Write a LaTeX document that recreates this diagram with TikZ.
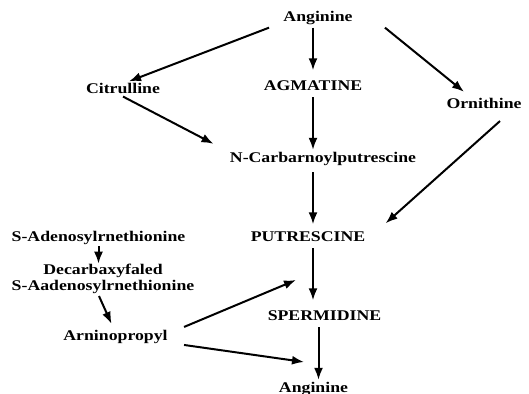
\documentclass[tikz,border=0pt]{standalone}
\usepackage{fontspec}
\setmainfont{Liberation Serif}[FakeStretch=1.2]
\usetikzlibrary{arrows.meta}
\begin{document}
\begin{tikzpicture}[x=0.5pt,y=0.5pt,
    chem/.style={anchor=base,inner sep=1pt,font=\fontsize{7.4}{8}\selectfont\bfseries},
    rxn/.style={line width=1pt,-{Latex[length=6pt,width=4.5pt]}}]
    \useasboundingbox (0,0) rectangle (529,394);
    \node[chem] (arg) at (318,372) {Anginine};
    \node[chem] (cit) at (123,300) {Citrulline};  \node[chem] (agm) at (313,303.5) {AGMATINE};  \node[chem] (orn) at (484,285.5) {Ornithine};
    \node[chem] (ncp) at (323,231.5) {N-Carbarnoylputrescine};
    \node[chem] (sam) at (98.5,152.5) {S-Adenosylrnethionine};  \node[chem] (put) at (308,152.5) {PUTRESCINE};
    \node[chem,align=center] (dsam) at (103,103.5) {Decarbaxyfaled\\S-Aadenosylrnethionine};
    \node[chem] (apr) at (115.5,53.5) {Arninopropyl};  \node[chem] (spd) at (324.5,73.5) {SPERMIDINE};
    \node[chem] (arg2) at (313.5,1.5) {Anginine};
    \coordinate (j1) at (296,114);  \coordinate (j2) at (304,32);
    \draw [rxn] ([xshift=-6pt]arg.south west) -- ([xshift=3pt]cit.north);
    \draw [rxn,shorten >=4pt] (arg.south -| agm.north) -- (agm.north);
    \draw [rxn] ([xshift=15pt]arg.south east) -- ([xshift=-10pt,yshift=2pt]orn.north);
    \draw [rxn] (cit.south) -- ([xshift=-7pt,yshift=3pt]ncp.north west);
    \draw [rxn,shorten <=2pt] (agm.south) -- (agm.south |- ncp.north);
    \draw [rxn] ([xshift=8pt,yshift=-5pt]orn.south) -- ([xshift=9pt,yshift=3pt]put.north east);
    \draw [rxn,shorten <=2pt,shorten >=2.5pt] (agm.south |- ncp.south) -- (agm.south |- put.north);
    \draw [rxn,shorten <=-0.5pt,shorten >=-1pt] (sam.south) -- (sam.south |- dsam.north);
    \draw [rxn] ([xshift=-2pt]dsam.south) -- ([xshift=-2pt,yshift=2pt]apr.north);
    \draw [rxn,shorten <=2pt,shorten >=4pt] (agm.south |- put.south) -- (agm.south |- spd.north);
    \draw [rxn] ([xshift=7pt,yshift=5pt]apr.east) -- (j1);  \draw [rxn] ([xshift=7pt,yshift=-4pt]apr.east) -- (j2);
    \draw [rxn,shorten <=2pt] ([xshift=-3pt]spd.south) -- ([xshift=-3pt]spd.south |- arg2.north);
\end{tikzpicture}
\end{document}
